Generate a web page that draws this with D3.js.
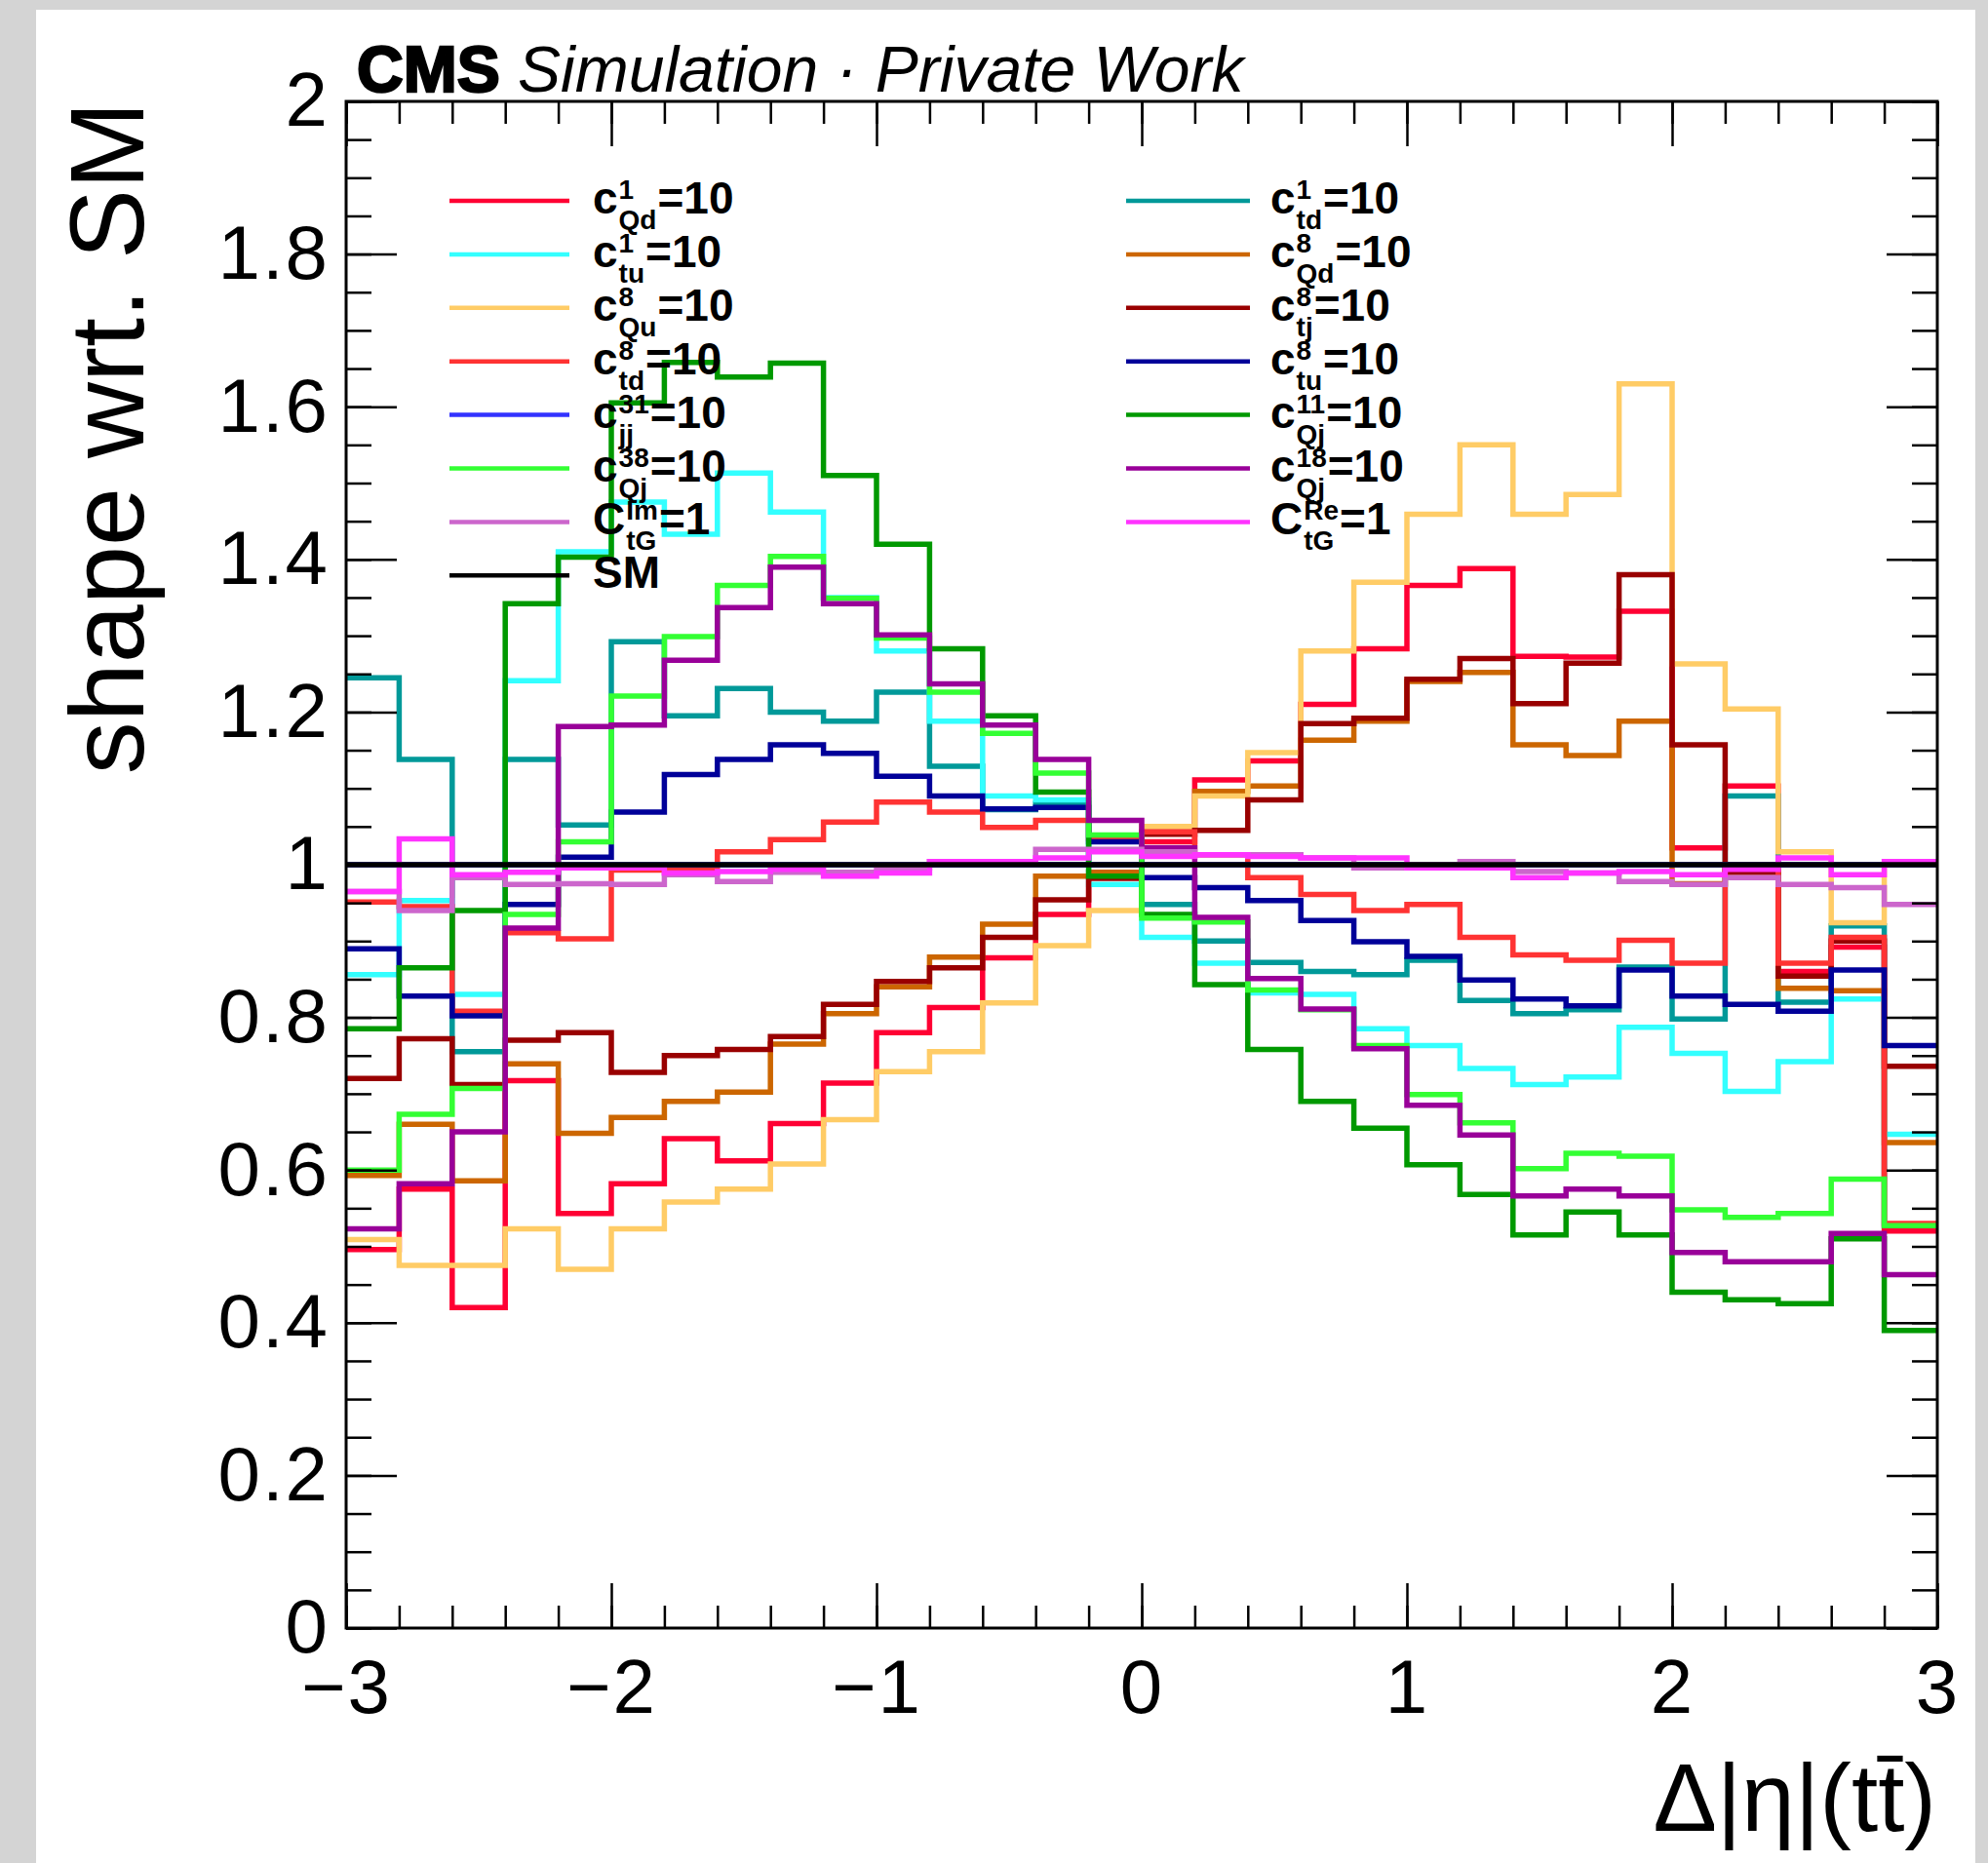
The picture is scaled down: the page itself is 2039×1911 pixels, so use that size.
<!DOCTYPE html>
<html>
<head>
<meta charset="utf-8">
<script src="https://cdn.jsdelivr.net/npm/d3@7"></script>
<style>
  html, body { margin: 0; padding: 0; background: #d4d4d4; }
  svg { display: block; }
  text { font-family: 'Liberation Sans', Arial, Helvetica, sans-serif; fill: #000; }
</style>
</head>
<body>
<svg id="chart" width="2039" height="1911"></svg>
<script>
// Bin edges of the Δ|η|(tt̄) histogram (30 bins)
const binEdges = [-3, -2.8, -2.6, -2.4, -2.2, -2, -1.8, -1.6, -1.4, -1.2, -1, -0.8, -0.6, -0.4, -0.2,
                  0, 0.2, 0.4, 0.6, 0.8, 1, 1.2, 1.4, 1.6, 1.8, 2, 2.2, 2.4, 2.6, 2.8, 3];

// Axis tick labels
const xTickLabels = [-3, -2, -1, 0, 1, 2, 3];
const yTickLabels = [0, 0.2, 0.4, 0.6, 0.8, 1, 1.2, 1.4, 1.6, 1.8, 2];

// Shape ratios to the SM prediction, one value per bin
const c1Qd = [0.496, 0.575, 0.42, 0.717, 0.543, 0.582, 0.641, 0.612, 0.661, 0.714, 0.78, 0.813, 0.878, 0.935, 0.985,
              1.03, 1.111, 1.136, 1.21, 1.283, 1.366, 1.388, 1.273, 1.272, 1.332, 1.022, 1.103, 0.86, 0.892, 0.52];
const c1td = [1.245, 1.138, 0.755, 1.138, 1.052, 1.292, 1.195, 1.231, 1.2, 1.188, 1.226, 1.129, 1.072, 1.08, 1.0,
              0.948, 0.9, 0.872, 0.86, 0.856, 0.875, 0.822, 0.805, 0.81, 0.866, 0.798, 1.09, 0.82, 0.92, 0.528];
const c1tu = [0.856, 0.953, 0.83, 1.241, 1.41, 1.475, 1.433, 1.513, 1.462, 1.35, 1.28, 1.188, 1.09, 1.085, 0.974,
              0.905, 0.871, 0.832, 0.83, 0.785, 0.763, 0.733, 0.712, 0.722, 0.787, 0.753, 0.703, 0.742, 0.824, 0.647];
const c8Qd = [0.593, 0.66, 0.586, 0.739, 0.648, 0.669, 0.69, 0.702, 0.765, 0.805, 0.84, 0.879, 0.922, 0.985, 0.99,
              1.05, 1.096, 1.103, 1.163, 1.188, 1.24, 1.252, 1.157, 1.143, 1.188, 0.975, 0.99, 0.838, 0.835, 0.636];
const c8Qu = [0.509, 0.475, 0.475, 0.523, 0.47, 0.523, 0.558, 0.575, 0.608, 0.666, 0.729, 0.755, 0.819, 0.894, 0.94,
              1.05, 1.09, 1.147, 1.28, 1.37, 1.459, 1.55, 1.459, 1.485, 1.63, 1.263, 1.204, 1.017, 0.924, 1.0];
const c8tj = [0.72, 0.772, 0.712, 0.77, 0.78, 0.728, 0.75, 0.758, 0.775, 0.817, 0.847, 0.865, 0.905, 0.954, 0.982,
              1.04, 1.045, 1.085, 1.185, 1.192, 1.243, 1.27, 1.211, 1.264, 1.38, 1.157, 0.99, 0.854, 0.9, 0.736];
const c8td = [0.951, 0.945, 0.808, 0.911, 0.903, 0.993, 0.995, 1.017, 1.033, 1.056, 1.082, 1.069, 1.049, 1.058, 1.034,
              1.043, 1.013, 0.983, 0.961, 0.94, 0.948, 0.905, 0.882, 0.875, 0.901, 0.871, 1.0, 0.871, 0.905, 0.53];
const c8tu = [0.89, 0.828, 0.802, 0.948, 1.01, 1.069, 1.118, 1.138, 1.157, 1.146, 1.116, 1.09, 1.073, 1.075, 1.03,
              0.983, 0.97, 0.953, 0.927, 0.899, 0.88, 0.849, 0.824, 0.815, 0.862, 0.828, 0.817, 0.808, 0.862, 0.763];
const c31jj = [1, 1, 1, 1, 1, 1, 1, 1, 1, 1, 1, 1, 1, 1, 1,
               1, 1, 1, 1, 1, 1, 1, 1, 1, 1, 1, 1, 1, 1, 1];
const c11Qj = [0.785, 0.865, 0.94, 1.342, 1.403, 1.605, 1.658, 1.639, 1.657, 1.51, 1.42, 1.283, 1.195, 1.095, 0.985,
               0.935, 0.843, 0.758, 0.69, 0.655, 0.607, 0.568, 0.515, 0.545, 0.515, 0.44, 0.43, 0.425, 0.51, 0.39];
const c38Qj = [0.6, 0.673, 0.707, 0.935, 1.03, 1.221, 1.299, 1.366, 1.404, 1.349, 1.297, 1.226, 1.172, 1.12, 1.039,
               0.93, 0.925, 0.836, 0.81, 0.763, 0.699, 0.662, 0.602, 0.622, 0.618, 0.548, 0.538, 0.543, 0.588, 0.527];
const c18Qj = [0.523, 0.582, 0.65, 0.917, 1.181, 1.183, 1.268, 1.337, 1.39, 1.342, 1.301, 1.237, 1.183, 1.138, 1.058,
               1.022, 0.931, 0.851, 0.811, 0.759, 0.685, 0.646, 0.566, 0.575, 0.566, 0.492, 0.48, 0.48, 0.517, 0.463];
const ctGIm = [0.965, 0.94, 0.983, 0.974, 0.975, 0.974, 0.987, 0.978, 0.99, 0.99, 0.996, 1.004, 1.004, 1.02, 1.02,
               1.017, 1.013, 1.013, 1.009, 0.996, 1.0, 1.004, 0.991, 0.989, 0.978, 0.974, 0.983, 0.974, 0.97, 0.948];
const ctGRe = [0.965, 1.034, 0.987, 0.99, 0.996, 0.996, 0.989, 0.991, 0.994, 0.985, 0.989, 1.004, 1.004, 1.009, 1.017,
               1.011, 1.013, 1.011, 1.009, 1.009, 0.996, 0.996, 0.983, 0.989, 0.991, 0.987, 0.994, 1.009, 0.987, 1.004];
const smRef = [1, 1, 1, 1, 1, 1, 1, 1, 1, 1, 1, 1, 1, 1, 1,
               1, 1, 1, 1, 1, 1, 1, 1, 1, 1, 1, 1, 1, 1, 1];

// Series in drawing order, with legend text pieces
const series = [
  { values: c1Qd,  color: "#ff0033", base: "c", sup: "1",  sub: "Qd", tail: "=10", col: 0, row: 0 },
  { values: c1td,  color: "#009999", base: "c", sup: "1",  sub: "td", tail: "=10", col: 1, row: 0 },
  { values: c1tu,  color: "#33ffff", base: "c", sup: "1",  sub: "tu", tail: "=10", col: 0, row: 1 },
  { values: c8Qd,  color: "#cc6600", base: "c", sup: "8",  sub: "Qd", tail: "=10", col: 1, row: 1 },
  { values: c8Qu,  color: "#ffcc66", base: "c", sup: "8",  sub: "Qu", tail: "=10", col: 0, row: 2 },
  { values: c8tj,  color: "#990000", base: "c", sup: "8",  sub: "tj", tail: "=10", col: 1, row: 2 },
  { values: c8td,  color: "#ff3333", base: "c", sup: "8",  sub: "td", tail: "=10", col: 0, row: 3 },
  { values: c8tu,  color: "#000099", base: "c", sup: "8",  sub: "tu", tail: "=10", col: 1, row: 3 },
  { values: c31jj, color: "#3333ff", base: "c", sup: "31", sub: "jj", tail: "=10", col: 0, row: 4 },
  { values: c11Qj, color: "#009900", base: "c", sup: "11", sub: "Qj", tail: "=10", col: 1, row: 4 },
  { values: c38Qj, color: "#33ff33", base: "c", sup: "38", sub: "Qj", tail: "=10", col: 0, row: 5 },
  { values: c18Qj, color: "#990099", base: "c", sup: "18", sub: "Qj", tail: "=10", col: 1, row: 5 },
  { values: ctGIm, color: "#cc66cc", base: "C", sup: "Im", sub: "tG", tail: "=1",  col: 0, row: 6 },
  { values: ctGRe, color: "#ff33ff", base: "C", sup: "Re", sub: "tG", tail: "=1",  col: 1, row: 6 },
  { values: smRef, color: "#000000", base: "SM", sup: "", sub: "",    tail: "",    col: 0, row: 7 }
];

const W = 2039, H = 1911;
const frame = { left: 355, right: 1987, top: 104, bottom: 1670 };
const svg = d3.select("#chart");

// page background and white canvas
svg.append("rect").attr("width", W).attr("height", H).attr("fill", "#d4d4d4");
svg.append("rect").attr("x", 37).attr("y", 10).attr("width", 2026 - 37).attr("height", H - 10).attr("fill", "#ffffff");

const x = d3.scaleLinear().domain([binEdges[0], binEdges[binEdges.length - 1]]).range([frame.left, frame.right]);
const y = d3.scaleLinear().domain([yTickLabels[0], yTickLabels[yTickLabels.length - 1]]).range([frame.bottom, frame.top]);

svg.append("clipPath").attr("id", "plotClip")
  .append("rect").attr("x", frame.left).attr("y", frame.top)
  .attr("width", frame.right - frame.left).attr("height", frame.bottom - frame.top);

// histogram outlines
const stepPoints = vals => vals.flatMap((v, i) => [[binEdges[i], v], [binEdges[i + 1], v]]);
const line = d3.line().x(d => x(d[0])).y(d => y(d[1]));

svg.append("g").attr("clip-path", "url(#plotClip)")
  .selectAll("path")
  .data(series)
  .join("path")
  .attr("d", d => line(stepPoints(d.values)))
  .attr("fill", "none")
  .attr("stroke", d => d.color)
  .attr("stroke-width", 5.5)
  .attr("stroke-linejoin", "miter")
  .attr("stroke-linecap", "butt");

// axes: ticks point inward on all four sides
const xMinor = d3.range(binEdges[0], binEdges[binEdges.length - 1] + 1e-9, 0.2);
const yMinor = d3.range(0, 2 + 1e-9, 0.05);
const tickStyle = g => {
  g.select(".domain").remove();
  g.selectAll(".tick line").attr("stroke", "#000").attr("stroke-width", 2.5);
  g.selectAll(".tick text").style("font-size", "78px").style("letter-spacing", "2px").attr("fill", "#000");
};
const fmtY = d3.format("~g");

svg.append("g").attr("transform", `translate(0,${frame.bottom})`)
  .call(d3.axisBottom(x).tickValues(xMinor).tickSize(-23).tickSizeOuter(0).tickFormat(""))
  .call(tickStyle);
svg.append("g").attr("transform", `translate(0,${frame.bottom})`)
  .call(d3.axisBottom(x).tickValues(xTickLabels).tickSize(-46).tickSizeOuter(0).tickPadding(32).tickFormat(d3.format("d")))
  .call(tickStyle);
svg.append("g").attr("transform", `translate(0,${frame.top})`)
  .call(d3.axisTop(x).tickValues(xMinor).tickSize(-23).tickSizeOuter(0).tickFormat(""))
  .call(tickStyle);
svg.append("g").attr("transform", `translate(0,${frame.top})`)
  .call(d3.axisTop(x).tickValues(xTickLabels).tickSize(-46).tickSizeOuter(0).tickFormat(""))
  .call(tickStyle);

svg.append("g").attr("transform", `translate(${frame.left},0)`)
  .call(d3.axisLeft(y).tickValues(yMinor).tickSize(-26).tickSizeOuter(0).tickFormat(""))
  .call(tickStyle);
svg.append("g").attr("transform", `translate(${frame.left},0)`)
  .call(d3.axisLeft(y).tickValues(yTickLabels).tickSize(-52).tickSizeOuter(0).tickPadding(17).tickFormat(fmtY))
  .call(tickStyle);
svg.append("g").attr("transform", `translate(${frame.right},0)`)
  .call(d3.axisRight(y).tickValues(yMinor).tickSize(-26).tickSizeOuter(0).tickFormat(""))
  .call(tickStyle);
svg.append("g").attr("transform", `translate(${frame.right},0)`)
  .call(d3.axisRight(y).tickValues(yTickLabels).tickSize(-52).tickSizeOuter(0).tickFormat(""))
  .call(tickStyle);

// frame
svg.append("rect")
  .attr("x", frame.left).attr("y", frame.top)
  .attr("width", frame.right - frame.left).attr("height", frame.bottom - frame.top)
  .attr("fill", "none").attr("stroke", "#000").attr("stroke-width", 3);

// axis titles
svg.append("text")
  .attr("transform", `translate(147,${frame.top}) rotate(-90)`)
  .attr("text-anchor", "end")
  .style("font-size", "108px")
  .text("shape wrt. SM");

const xTitle = svg.append("text")
  .attr("x", 1986).attr("y", 1878)
  .attr("text-anchor", "end")
  .style("font-size", "98px");
xTitle.append("tspan").text("Δ|η|(t");
xTitle.append("tspan").text("t\u0304");
xTitle.append("tspan").text(")");

// header
const head = svg.append("text").attr("x", 366).attr("y", 94).style("font-size", "66px");
head.append("tspan").attr("font-weight", "bold").attr("stroke", "#000").attr("stroke-width", 2.5).text("CMS");
head.append("tspan").attr("font-style", "italic").text(" Simulation · Private Work");

// legend
const legend = svg.append("g");
const legendCols = [
  { lineX1: 461, lineX2: 584, textX: 608 },
  { lineX1: 1155, lineX2: 1282, textX: 1303 }
];
const rowY0 = 206, rowStep = 54.9;

series.forEach(s => {
  const c = legendCols[s.col];
  const ry = rowY0 + s.row * rowStep;
  legend.append("line")
    .attr("x1", c.lineX1).attr("x2", c.lineX2).attr("y1", ry).attr("y2", ry)
    .attr("stroke", s.color).attr("stroke-width", 4.5);
  const baseY = ry + 13;
  const g = legend.append("g").attr("font-weight", "bold");
  const t = g.append("text").attr("x", c.textX).attr("y", baseY).style("font-size", "46px").text(s.base);
  let xs = c.textX + t.node().getComputedTextLength() + 1;
  let ws = 0;
  if (s.sup) {
    const sp = g.append("text").attr("x", xs).attr("y", baseY - 15).style("font-size", "28px").text(s.sup);
    ws = Math.max(ws, sp.node().getComputedTextLength());
  }
  if (s.sub) {
    const sb = g.append("text").attr("x", xs).attr("y", baseY + 16).style("font-size", "28px").text(s.sub);
    ws = Math.max(ws, sb.node().getComputedTextLength());
  }
  if (s.tail) {
    g.append("text").attr("x", xs + ws + 1).attr("y", baseY).style("font-size", "46px").text(s.tail);
  }
});
</script>
</body>
</html>
